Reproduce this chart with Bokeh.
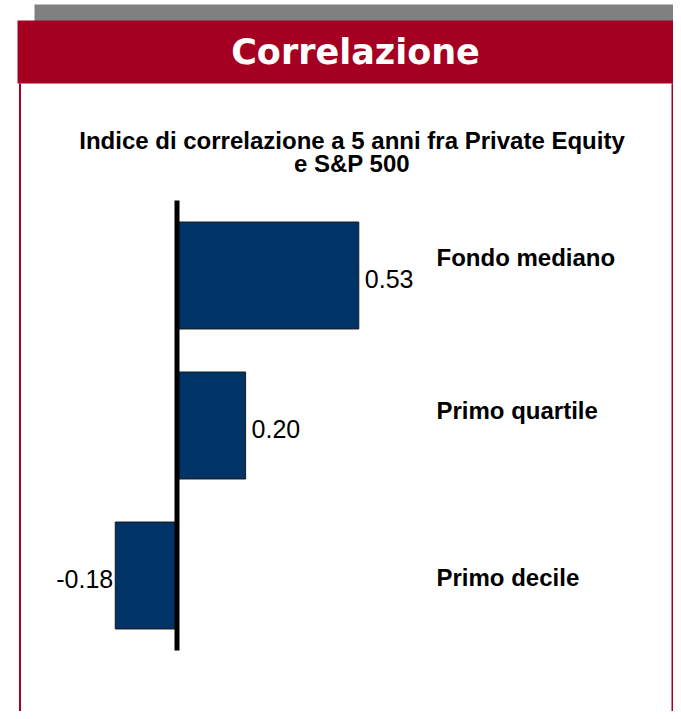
from bokeh.plotting import figure
from bokeh.models import Range1d, ColumnDataSource
from bokeh.core.properties import value
from bokeh.embed import file_html
from bokeh.resources import INLINE

# ---- data ----
categories = ["Fondo mediano", "Primo quartile", "Primo decile"]
correlations = [0.53, 0.20, -0.18]
title_lines = ["Indice di correlazione a 5 anni fra Private Equity", "e S&P 500"]
header_text = "Correlazione"

# ---- layout (pixels) ----
W, H = 673, 711
ZERO_PX = 176.5        # x pixel of value 0
PX_PER_UNIT = 343.0    # horizontal scale
CAT0_PY = 275.0        # y pixel of first category centre
PX_PER_CAT = 150.0
FONT = "Liberation Sans"


def xd(px):
    return (px - ZERO_PX) / PX_PER_UNIT


def yd(py):
    return (py - CAT0_PY) / PX_PER_CAT


p = figure(width=W, height=H, output_backend="svg", toolbar_location=None,
           x_range=Range1d(xd(0), xd(W)),
           y_range=Range1d(yd(H), yd(0)),
           x_axis_type=None, y_axis_type=None, title=None,
           min_border=0, outline_line_color=None,
           background_fill_color="white", border_fill_color="white")
p.grid.visible = False

RED = "#A50021"
# decorations: grey strip, header band, side borders
p.quad(left=[xd(34)], right=[xd(700)], top=[yd(4)], bottom=[yd(67)],
       fill_color="#808080", line_color=None)
p.quad(left=[xd(17)], right=[xd(679)], top=[yd(20)], bottom=[yd(83)],
       fill_color=RED, line_color=None)
p.quad(left=[xd(18.5), xd(671)], right=[xd(20.5), xd(673)],
       top=[yd(83), yd(83)], bottom=[yd(730), yd(730)],
       fill_color=RED, line_color=None)
p.text(x=[xd(355)], y=[yd(51)], text=[header_text], text_align="center",
       text_baseline="middle", text_color="white",
       text_font=value("DejaVu Sans"), text_font_style="bold",
       text_font_size="35px")

# chart title
p.text(x=[xd(351.5)] * 2, y=[yd(140), yd(163)], text=title_lines,
       text_align="center", text_baseline="middle", text_color="black",
       text_font=value(FONT), text_font_style="bold",
       text_font_size="24px")

# bars
idx = list(range(len(categories)))
src = ColumnDataSource(dict(
    y=idx, v=correlations,
    lbl=["%.2f" % v for v in correlations],
    align=["left" if v >= 0 else "right" for v in correlations],
    xoff=[6 if v >= 0 else -2 for v in correlations],
    cat=categories,
    cat_dy=[-18, -15, 2],
))
p.hbar(y="y", left=0, right="v", height=0.713, source=src,
       fill_color="#003366", line_color="#1a1a1a", line_width=1)
p.segment(x0=[0], y0=[-0.5], x1=[0], y1=[len(categories) - 0.5],
          line_color="black", line_width=5)

# value labels
p.text(x="v", y="y", text="lbl", source=src, text_align="align",
       x_offset="xoff", y_offset=3, text_baseline="middle",
       text_color="black", text_font=value(FONT),
       text_font_size="25px")

# category labels
p.text(x=xd(436), y="y", text="cat", source=src, text_align="left",
       y_offset="cat_dy", text_baseline="middle", text_color="black",
       text_font=value(FONT), text_font_style="bold",
       text_font_size="24px")

open("out.html", "w").write(file_html(p, INLINE))
